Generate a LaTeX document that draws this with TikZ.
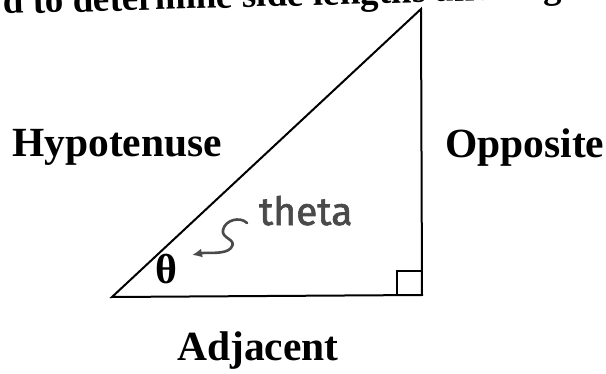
\documentclass[tikz,border=0pt]{standalone}
\usepackage{fontspec}
\setmainfont{Liberation Serif}
\newfontfamily\handfont[FakeBold=1.6]{Fira Sans}
\usetikzlibrary{arrows.meta}
\definecolor{pencil}{HTML}{4A4A4A}
\tikzset{
  side/.style={line width=2pt, line join=miter},
  biglabel/.style={font=\fontsize{41.5}{41.5}\selectfont\bfseries, inner sep=0pt, anchor=base west},
  hand/.style={font=\handfont\fontsize{39}{39}\selectfont, text=pencil, inner sep=0pt, anchor=base west},
}
\begin{document}
\begin{tikzpicture}[x=1pt,y=1pt]
\useasboundingbox (0,0) rectangle (606,373);
\clip (0,0) rectangle (606,373);
\fill[white] (0,0) rectangle (606,373);
% heading (cut off at top)
\node[font=\fontsize{37}{37}\selectfont\bfseries, inner sep=0pt, anchor=base west, rotate=1.6] (head) at (3,359) {d to determine side lengths and ang};
% triangle
\coordinate (A) at (112,76);
\coordinate (B) at (421,364);
\coordinate (C) at (422,78);
\draw[side] (A) -- (B) -- (C) -- cycle;
% right angle mark
\draw[line width=1.8pt] (397,78) |- (422,102);
% labels
\node[biglabel] (hyp) at (12,216) {Hypotenuse};
\node[biglabel] (opp) at (445,215) {Opposite};
\node[biglabel] (adj) at (177,13) {Adjacent};
\node[font=\fontsize{42}{42}\selectfont\bfseries, inner sep=0pt] (th) at (166,104) {θ};
% handwritten note
\node[hand] (note) at (259,148) {theta};
\coordinate (s) at (247,150);
\coordinate (e) at (192,118);
\draw[pencil, line width=2.6pt, line cap=round, -{Latex[length=10pt,width=9pt]}]
  (s) .. controls (240,157) and (225,153) .. (223,143)
      .. controls (221,134) and (238,134) .. (231,125)
      .. controls (225,118) and (207,121) .. (e);
\end{tikzpicture}
\end{document}
